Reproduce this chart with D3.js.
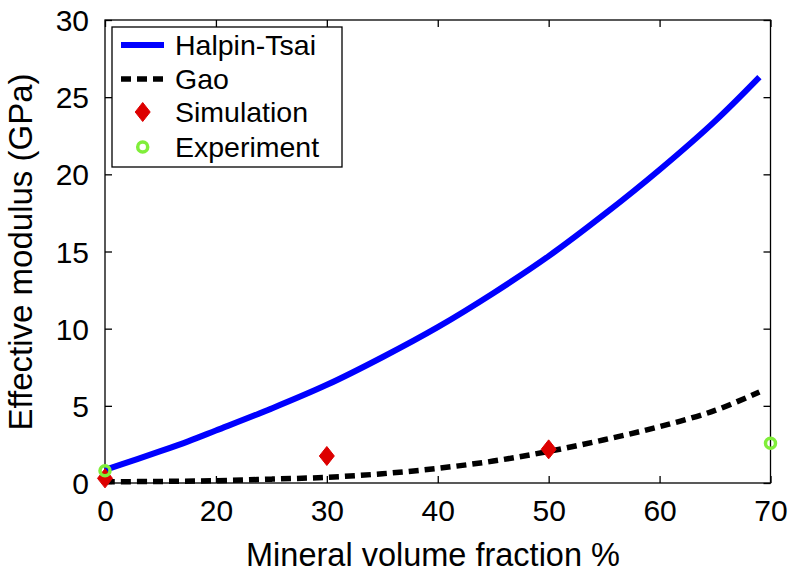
<!DOCTYPE html>
<html>
<head>
<meta charset="utf-8">
<script src="https://cdn.jsdelivr.net/npm/d3@7"></script>
<style>
  html, body { margin: 0; padding: 0; background: #fff; }
  svg { display: block; font-family: "Liberation Sans", Arial, Helvetica, sans-serif; }
</style>
</head>
<body>
<svg id="chart" width="788" height="573"></svg>
<script>
// ---- data ----
const xTickValues = [0, 20, 30, 40, 50, 60, 70];
const xTickLabels = ["0", "20", "30", "40", "50", "60", "70"];
const yTickValues = [0, 5, 10, 15, 20, 25, 30];
const yTickLabels = ["0", "5", "10", "15", "20", "25", "30"];

const halpinX = [0, 5, 10, 15, 20, 25, 30, 35, 40, 45, 50, 55, 60, 65, 69];
const halpinY = [0.85, 1.45, 2.06, 2.7, 3.4, 4.82, 6.36, 8.15, 10.1, 12.3, 14.7, 17.4, 20.3, 23.45, 26.3];

const gaoX = [0, 10, 20, 25, 30, 35, 40, 45, 50, 55, 60, 65, 69];
const gaoY = [0.08, 0.1, 0.15, 0.25, 0.37, 0.6, 0.95, 1.42, 2.05, 2.8, 3.65, 4.7, 5.9];

const simX = [0, 30, 50];
const simY = [0.3, 1.75, 2.18];

const expX = [0, 70];
const expY = [0.8, 2.57];

const legendLabels = ["Halpin-Tsai", "Gao", "Simulation", "Experiment"];

(function () {
// ---- layout ----
const pLeft = 105, pRight = 770.5, pTop = 20, pBottom = 483;
const svg = d3.select("#chart");

const xRange = xTickValues.map((d, i) => pLeft + i * (pRight - pLeft) / (xTickValues.length - 1));
const x = d3.scaleLinear().domain(xTickValues).range(xRange);
const y = d3.scaleLinear().domain([0, 30]).range([pBottom, pTop]);

const blue = "#0000ff", red = "#dd0000", green = "#80ee3a";

// axes box
svg.append("rect").attr("x", pLeft).attr("y", pTop)
  .attr("width", pRight - pLeft).attr("height", pBottom - pTop)
  .attr("fill", "none").attr("stroke", "#000").attr("stroke-width", 1.3);

const tickLen = 7;
const axisFont = 30;

const xb = svg.append("g").attr("transform", `translate(0,${pBottom})`)
  .call(d3.axisBottom(x).tickValues(xTickValues).tickSizeInner(-tickLen).tickSizeOuter(0)
    .tickPadding(17).tickFormat((d, i) => xTickLabels[i]));
const xt = svg.append("g").attr("transform", `translate(0,${pTop})`)
  .call(d3.axisTop(x).tickValues(xTickValues).tickSizeInner(-tickLen).tickSizeOuter(0).tickFormat(""));
const yl = svg.append("g").attr("transform", `translate(${pLeft},0)`)
  .call(d3.axisLeft(y).tickValues(yTickValues).tickSizeInner(-tickLen).tickSizeOuter(0)
    .tickPadding(16).tickFormat((d, i) => yTickLabels[i]));
const yr = svg.append("g").attr("transform", `translate(${pRight},0)`)
  .call(d3.axisRight(y).tickValues(yTickValues).tickSizeInner(-tickLen).tickSizeOuter(0).tickFormat(""));

[xb, xt, yl, yr].forEach(g => {
  g.select(".domain").remove();
  g.selectAll(".tick line").attr("stroke", "#000").attr("stroke-width", 1.3);
  g.selectAll(".tick text").attr("fill", "#000").attr("font-size", axisFont)
    .attr("font-family", '"Liberation Sans", Arial, sans-serif');
});
xb.selectAll(".tick text").attr("dy", null).attr("y", 38);
yl.selectAll(".tick text").attr("dy", "0.35em").attr("x", -16);

// curves
const line = d3.line().x(d => x(d[0])).y(d => y(d[1])).curve(d3.curveCatmullRom.alpha(0.5));
svg.append("path").datum(halpinX.map((d, i) => [d, halpinY[i]]))
  .attr("d", line).attr("fill", "none").attr("stroke", blue).attr("stroke-width", 6);
svg.append("path").datum(gaoX.map((d, i) => [d, gaoY[i]]))
  .attr("d", line).attr("fill", "none").attr("stroke", "#000").attr("stroke-width", 5.5)
  .attr("stroke-dasharray", "10,6");

function diamond(g, cx, cy) {
  g.append("path")
    .attr("d", `M${cx},${cy - 9.5}L${cx + 7.5},${cy}L${cx},${cy + 9.5}L${cx - 7.5},${cy}Z`)
    .attr("fill", red).attr("stroke", red).attr("stroke-width", 1);
}
function ring(g, cx, cy) {
  g.append("circle").attr("cx", cx).attr("cy", cy).attr("r", 5)
    .attr("fill", "none").attr("stroke", green).attr("stroke-width", 3.5);
}
const mk = svg.append("g");
simX.forEach((d, i) => diamond(mk, x(d), y(simY[i])));
expX.forEach((d, i) => ring(mk, x(d), y(expY[i])));

// legend
const lg = svg.append("g");
lg.append("rect").attr("x", 112).attr("y", 27).attr("width", 230).attr("height", 140)
  .attr("fill", "#fff").attr("stroke", "#000").attr("stroke-width", 1.3);
const rowY = [45, 79, 112, 147];
lg.append("line").attr("x1", 121).attr("x2", 164).attr("y1", rowY[0]).attr("y2", rowY[0])
  .attr("stroke", blue).attr("stroke-width", 6);
lg.append("line").attr("x1", 121).attr("x2", 164).attr("y1", rowY[1]).attr("y2", rowY[1])
  .attr("stroke", "#000").attr("stroke-width", 5.5).attr("stroke-dasharray", "10,6");
diamond(lg, 142.7, rowY[2]);
ring(lg, 142.7, rowY[3]);
legendLabels.forEach((t, i) => {
  lg.append("text").attr("x", 175).attr("y", rowY[i]).attr("dy", "0.35em")
    .attr("font-size", 28.5).attr("fill", "#000").text(t);
});

// axis titles
svg.append("text").attr("x", 433).attr("y", 566).attr("text-anchor", "middle")
  .attr("font-size", 32.5).attr("fill", "#000").text("Mineral volume fraction %");
svg.append("text").attr("transform", "translate(31.5,252) rotate(-90)")
  .attr("text-anchor", "middle").attr("font-size", 33).attr("fill", "#000")
  .text("Effective modulus (GPa)");
})();
</script>
</body>
</html>
